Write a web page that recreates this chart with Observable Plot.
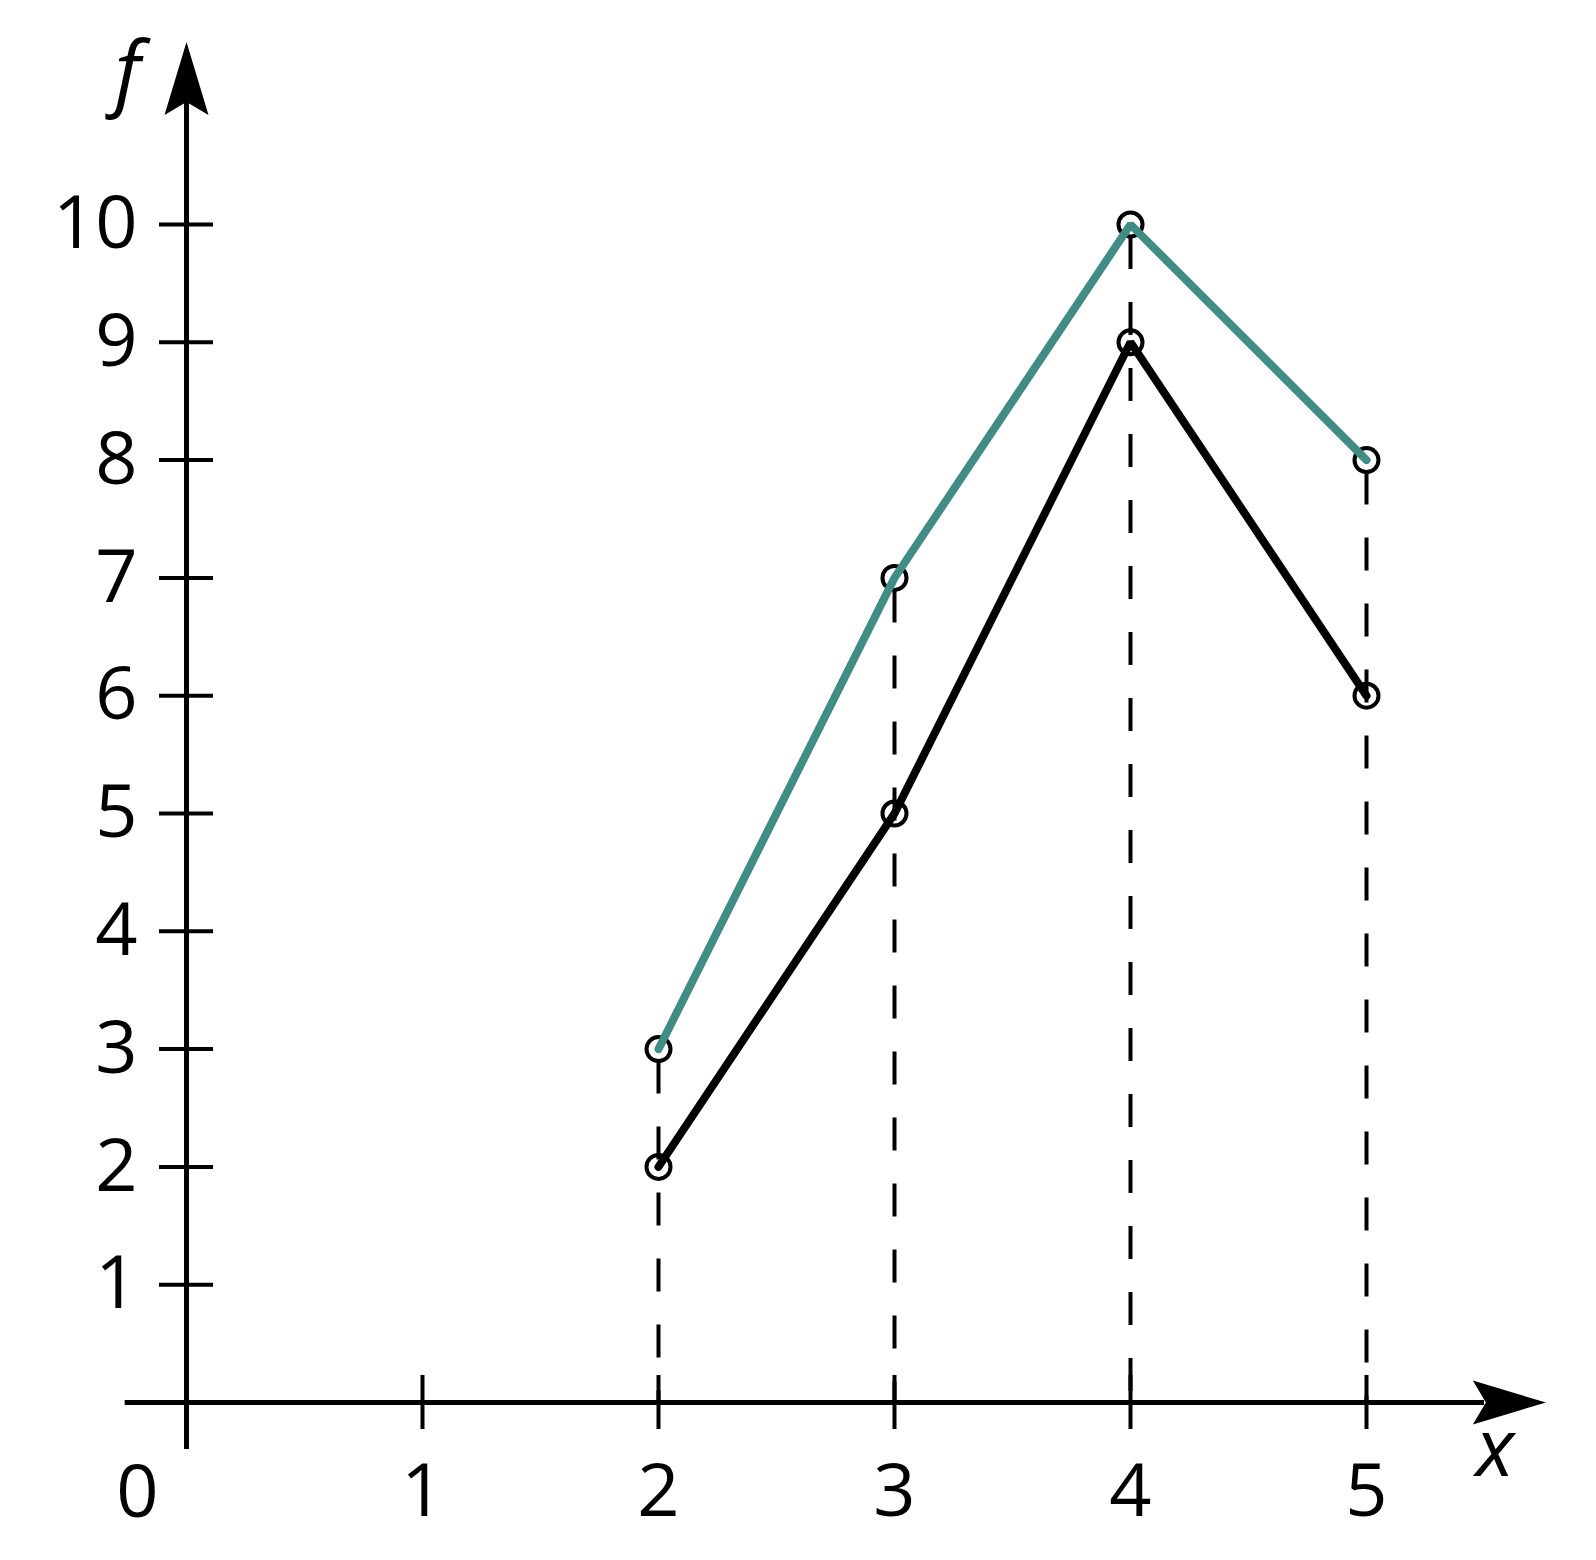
<!DOCTYPE html>
<html>
<head>
<meta charset="utf-8">
<script src="https://cdn.jsdelivr.net/npm/d3@7"></script>
<script src="https://cdn.jsdelivr.net/npm/@observablehq/plot@0.6"></script>
<style>
  html, body { margin: 0; padding: 0; background: #fff; }
  #chart svg { display: block; }
</style>
</head>
<body>
<div id="chart"></div>
<script>
// ---- data ----
const xs = [2, 3, 4, 5];
const upperValues = [3, 7, 10, 8];   // teal series
const lowerValues = [2, 5, 9, 6];    // black series
const xTicks = [1, 2, 3, 4, 5];
const yTicks = [1, 2, 3, 4, 5, 6, 7, 8, 9, 10];
const xLabel = "x";
const yLabel = "f";

// axis extents (data units)
const xAxisStart = -0.26, xAxisEnd = 5.5, xArrowTip = 5.76;
const yAxisStart = -0.40, yAxisEnd = 11.1, yArrowTip = 11.55;

const teal = "#418c84";

const upper = xs.map((x, i) => ({x, y: upperValues[i]}));
const lower = xs.map((x, i) => ({x, y: lowerValues[i]}));
const drops = xs.map((x, i) => ({x, top: Math.max(upperValues[i], lowerValues[i])}));

const arrowHead = {
  draw(ctx) {
    ctx.moveTo(0, 0);
    ctx.lineTo(22, 73);
    ctx.lineTo(0, 60);
    ctx.lineTo(-22, 73);
    ctx.closePath();
  }
};

const font = "'Open Sans', 'Noto Sans', sans-serif";

const chart = Plot.plot({
  width: 1596,
  height: 1560,
  marginLeft: 186,
  marginRight: 230,
  marginTop: 224,
  marginBottom: 158,
  x: {domain: [0, 5], axis: null},
  y: {domain: [0, 10], axis: null},
  style: {fontFamily: font, background: "#fff", overflow: "visible"},
  marks: [
    // dashed drop lines
    Plot.ruleX(drops, {x: "x", y1: "top", y2: 0, stroke: "black", strokeWidth: 4, strokeDasharray: "33,33", strokeDashoffset: -12}),
    // axes
    Plot.ruleY([0], {x1: xAxisStart, x2: xAxisEnd, stroke: "black", strokeWidth: 5}),
    Plot.ruleX([0], {y1: yAxisStart, y2: yAxisEnd, stroke: "black", strokeWidth: 5}),
    Plot.dot([{x: 0, y: yArrowTip}], {x: "x", y: "y", symbol: arrowHead, fill: "black", stroke: "none", rotate: 0}),
    Plot.dot([{x: xArrowTip, y: 0}], {x: "x", y: "y", symbol: arrowHead, fill: "black", stroke: "none", rotate: 90}),
    // ticks
    Plot.ruleX(xTicks, {x: d => d, y1: 0, y2: 0, insetTop: -27, insetBottom: -27, stroke: "black", strokeWidth: 4}),
    Plot.ruleY(yTicks, {y: d => d, x1: 0, x2: 0, insetLeft: -27, insetRight: -27, stroke: "black", strokeWidth: 4}),
    // tick labels
    Plot.text(yTicks, {x: 0, y: d => d, text: d => String(d), dx: -49, textAnchor: "end", fontSize: 74, fill: "black"}),
    Plot.text(xTicks, {x: d => d, y: 0, text: d => String(d), dy: 90, fontSize: 74, fill: "black"}),
    Plot.text([0], {x: 0, y: 0, text: d => String(d), dx: -49, dy: 91, fontSize: 74, fill: "black"}),
    // axis labels
    Plot.text([yLabel], {x: 0, y: yArrowTip, text: d => d, dx: -59, dy: 32, fontSize: 82, fontStyle: "italic", fill: "black"}),
    Plot.text([xLabel], {x: xArrowTip, y: 0, text: d => d, dx: -51, dy: 48, fontSize: 80, fontStyle: "italic", fill: "black"}),
    // series
    Plot.line(lower, {x: "x", y: "y", stroke: "black", strokeWidth: 8, strokeLinejoin: "miter"}),
    Plot.dot(lower, {x: "x", y: "y", r: 12, stroke: "black", strokeWidth: 4, fill: "none"}),
    Plot.dot(upper, {x: "x", y: "y", r: 12, stroke: "black", strokeWidth: 4, fill: "none"}),
    Plot.line(upper, {x: "x", y: "y", stroke: teal, strokeWidth: 8, strokeLinejoin: "miter"})
  ]
});

document.getElementById("chart").appendChild(chart);
</script>
</body>
</html>
